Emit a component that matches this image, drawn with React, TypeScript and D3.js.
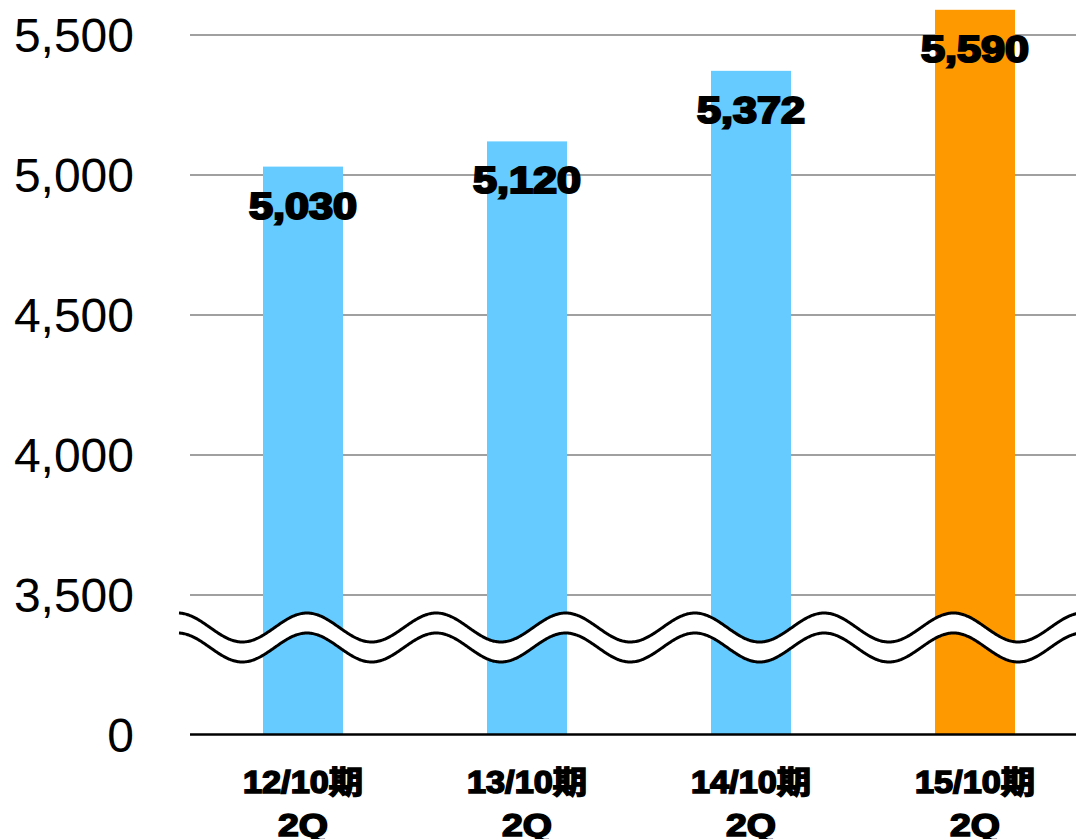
import React from "react";
import * as d3 from "d3";

const categories = ["12/10期", "13/10期", "14/10期", "15/10期"];
const subLabels = ["2Q", "2Q", "2Q", "2Q"];
const values = [5030, 5120, 5372, 5590];
const barColors = ["#66CCFF", "#66CCFF", "#66CCFF", "#FF9900"];
const yTicks = [3500, 4000, 4500, 5000, 5500];
const zeroLabel = "0";

const W = 1076;
const H = 839;

export default function App() {
  const x = d3
    .scaleBand<string>()
    .domain(categories)
    .range([191, 1087])
    .paddingInner(144 / 224)
    .paddingOuter(72 / 224);
  const y = d3.scaleLinear().domain([3500, 5500]).range([595, 35]);
  const zeroY = 735;
  const fmt = d3.format(",");

  // broken-axis wave
  const period = 129.3;
  const amp = 14.5;
  const phase = 307;
  const xs = d3.range(179, W + 2, 1);
  const upperY = (px: number) => 627.5 - amp * Math.cos((2 * Math.PI * (px - phase)) / period);
  const line = d3
    .line<number>()
    .x((d) => d)
    .y((d) => upperY(d))
    .curve(d3.curveBasis);
  const lineLow = d3
    .line<number>()
    .x((d) => d)
    .y((d) => upperY(d) + 20)
    .curve(d3.curveBasis);
  const band = d3
    .area<number>()
    .x((d) => d)
    .y0((d) => upperY(d))
    .y1((d) => upperY(d) + 20);

  return (
    <svg
      width={W}
      height={H}
      style={{ position: "absolute", left: 0, top: 0, display: "block" }}
      fontFamily="'Liberation Sans', Arial, 'Noto Sans CJK JP', sans-serif"
    >
      <rect x={0} y={0} width={W} height={H} fill="#fff" />
      {yTicks.map((t) => (
        <g key={t}>
          <line x1={190} x2={W} y1={y(t)} y2={y(t)} stroke="#a0a0a0" strokeWidth={2} />
          <text x={134} y={y(t) + 17} textAnchor="end" fontSize={48} fill="#000">
            {fmt(t)}
          </text>
        </g>
      ))}
      <text x={134} y={zeroY + 17} textAnchor="end" fontSize={48} fill="#000">
        {zeroLabel}
      </text>
      {categories.map((c, i) => (
        <rect
          key={c}
          x={x(c)}
          y={y(values[i])}
          width={x.bandwidth()}
          height={zeroY - y(values[i])}
          fill={barColors[i]}
        />
      ))}
      <path d={band(xs) || ""} fill="#fff" />
      <path d={line(xs) || ""} fill="none" stroke="#000" strokeWidth={3} />
      <path d={lineLow(xs) || ""} fill="none" stroke="#000" strokeWidth={3} />
      <line x1={190} x2={W} y1={zeroY - 0.5} y2={zeroY - 0.5} stroke="#000" strokeWidth={2.5} />
      {categories.map((c, i) => {
        const cx = (x(c) as number) + x.bandwidth() / 2;
        return (
          <g key={"lab" + c}>
            <text
              x={cx}
              y={y(values[i]) + 52}
              textAnchor="middle"
              fontSize={36}
              fontWeight="bold"
              fill="#000"
              stroke="#000"
              strokeWidth={2.2}
              textLength={108}
              lengthAdjust="spacingAndGlyphs"
            >
              {fmt(values[i])}
            </text>
            <text
              x={cx}
              y={793}
              textAnchor="middle"
              fontSize={31}
              fontWeight="bold"
              fill="#000"
              stroke="#000"
              strokeWidth={1.6}
              textLength={120}
              lengthAdjust="spacingAndGlyphs"
            >
              {c}
            </text>
            <text
              x={cx}
              y={836}
              textAnchor="middle"
              fontSize={31}
              fontWeight="bold"
              fill="#000"
              stroke="#000"
              strokeWidth={1.6}
              textLength={50}
              lengthAdjust="spacingAndGlyphs"
            >
              {subLabels[i]}
            </text>
          </g>
        );
      })}
    </svg>
  );
}
